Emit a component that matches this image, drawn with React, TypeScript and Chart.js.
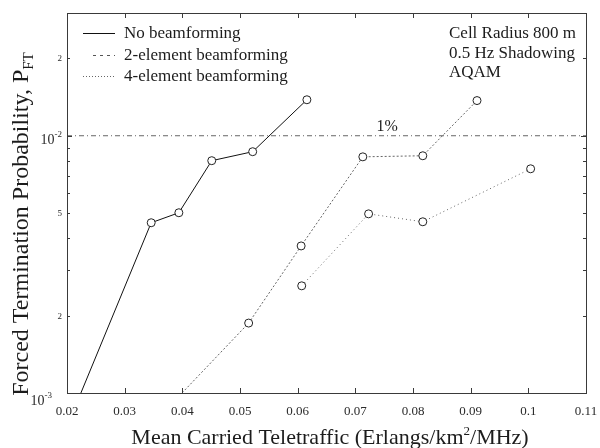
import React, { useEffect, useRef } from "react";
import { Chart, registerables } from "chart.js";

Chart.register(...registerables);

// ---- data ----
const noBfX = [0.02, 0.0346, 0.0394, 0.0451, 0.0522, 0.0616];
const noBfY = [0.00074, 0.00459, 0.00502, 0.008, 0.00867, 0.0138];
const bf2X = [0.039, 0.0515, 0.0606, 0.0713, 0.0817, 0.0911];
const bf2Y = [0.00095, 0.00187, 0.00373, 0.00828, 0.00836, 0.0137];
const bf4X = [0.0607, 0.0723, 0.0817, 0.1004];
const bf4Y = [0.00261, 0.00497, 0.00463, 0.00744];
const refX = [0.02, 0.11];
const refY = [0.01, 0.01];

const xTickValues = [0.02, 0.03, 0.04, 0.05, 0.06, 0.07, 0.08, 0.09, 0.1, 0.11];
const xTickLabels = ["0.02", "0.03", "0.04", "0.05", "0.06", "0.07", "0.08", "0.09", "0.1", "0.11"];
const yMinorValues = [
  0.001, 0.002, 0.003, 0.004, 0.005, 0.006, 0.007, 0.008, 0.009, 0.01, 0.02, 0.03,
];
const yDecadeValues = [0.001, 0.01];
const yDecadeExps = ["-3", "-2"];
const yMantValues = [0.002, 0.005, 0.02];
const yMantLabels = ["2", "5", "2"];

const seriesNames = ["No beamforming", "2-element beamforming", "4-element beamforming"];
const infoLines = ["Cell Radius 800 m", "0.5 Hz Shadowing", "AQAM"];
const refLabel = "1%";
const xTitleParts = ["Mean Carried Teletraffic (Erlangs/km", "2", "/MHz)"];
const yTitleParts = ["Forced Termination Probability, P", "FT"];

const FONT = "'Liberation Serif', 'DejaVu Serif', 'Times New Roman', serif";
const INK = "#1c1c1c";

type Part = { t: string; size: number; dy: number };

function drawParts(ctx: CanvasRenderingContext2D, parts: Part[], x: number, y: number, align: "left" | "center" | "right") {
  let total = 0;
  const widths = parts.map((p) => {
    ctx.font = `${p.size}px ${FONT}`;
    const w = ctx.measureText(p.t).width;
    total += w;
    return w;
  });
  let cx = align === "left" ? x : align === "center" ? x - total / 2 : x - total;
  parts.forEach((p, i) => {
    ctx.font = `${p.size}px ${FONT}`;
    ctx.textAlign = "left";
    ctx.textBaseline = "alphabetic";
    ctx.fillText(p.t, cx, y + p.dy);
    cx += widths[i];
  });
}

const decorPlugin = {
  id: "decor",
  afterDatasetsDraw(chart: any) {
    const ctx: CanvasRenderingContext2D = chart.ctx;
    const { left, right, top, bottom } = chart.chartArea;
    const xs = chart.scales.x;
    const ys = chart.scales.y;
    ctx.save();
    ctx.strokeStyle = "#3a3a3a";
    ctx.fillStyle = INK;
    ctx.lineWidth = 1;
    // frame
    ctx.strokeRect(Math.round(left) + 0.5, Math.round(top) + 0.5, Math.round(right - left), Math.round(bottom - top));
    // y ticks (inside, both sides)
    yMinorValues.forEach((v) => {
      const py = Math.round(ys.getPixelForValue(v)) + 0.5;
      const len = v === 0.001 || v === 0.01 ? 5 : 3;
      ctx.beginPath();
      ctx.moveTo(left, py);
      ctx.lineTo(left + len, py);
      ctx.moveTo(right, py);
      ctx.lineTo(right - len, py);
      ctx.stroke();
    });
    // x ticks (inside, top & bottom)
    xTickValues.forEach((v) => {
      const px = Math.round(xs.getPixelForValue(v)) + 0.5;
      ctx.beginPath();
      ctx.moveTo(px, bottom);
      ctx.lineTo(px, bottom - 5);
      ctx.moveTo(px, top);
      ctx.lineTo(px, top + 5);
      ctx.stroke();
    });
    // x tick labels
    ctx.fillStyle = "#2a2a2a";
    xTickValues.forEach((v, i) => {
      const px = xs.getPixelForValue(v);
      drawParts(ctx, [{ t: xTickLabels[i], size: 13, dy: 0 }], px, bottom + 22, "center");
    });
    // y tick labels
    yDecadeValues.forEach((v, i) => {
      const py = ys.getPixelForValue(v);
      const isBottom = i === 0;
      drawParts(
        ctx,
        [
          { t: "10", size: 14, dy: 0 },
          { t: yDecadeExps[i], size: 9, dy: -7 },
        ],
        isBottom ? left - 15 : left - 5,
        isBottom ? py + 12 : py + 8,
        "right"
      );
    });
    yMantValues.forEach((v, i) => {
      const py = ys.getPixelForValue(v);
      drawParts(ctx, [{ t: yMantLabels[i], size: 9, dy: 0 }], left - 5, py + 3, "right");
    });
    // axis titles
    ctx.fillStyle = INK;
    drawParts(
      ctx,
      [
        { t: xTitleParts[0], size: 22, dy: 0 },
        { t: xTitleParts[1], size: 13, dy: -9 },
        { t: xTitleParts[2], size: 22, dy: 0 },
      ],
      330,
      444,
      "center"
    );
    ctx.save();
    ctx.translate(28, 224);
    ctx.rotate(-Math.PI / 2);
    drawParts(
      ctx,
      [
        { t: yTitleParts[0], size: 24, dy: 0 },
        { t: yTitleParts[1], size: 15, dy: 5 },
      ],
      0,
      0,
      "center"
    );
    ctx.restore();
    // legend
    const legY = [33, 55, 76];
    const legDash = [[], [3, 4], [1, 2]];
    const legColor = ["#111", "#555", "#666"];
    const legX0 = [83, 93, 83];
    seriesNames.forEach((name, i) => {
      ctx.save();
      ctx.strokeStyle = legColor[i];
      ctx.lineWidth = 1;
      ctx.setLineDash(legDash[i]);
      ctx.beginPath();
      ctx.moveTo(legX0[i], Math.round(legY[i]) + 0.5);
      ctx.lineTo(115, Math.round(legY[i]) + 0.5);
      ctx.stroke();
      ctx.restore();
      ctx.fillStyle = INK;
      drawParts(ctx, [{ t: name, size: 17, dy: 0 }], 124, legY[i] + 5, "left");
    });
    // info text
    const infoY = [33, 52.5, 72];
    infoLines.forEach((s, i) => {
      drawParts(ctx, [{ t: s, size: 17, dy: 0 }], 449, infoY[i] + 5, "left");
    });
    // 1% label
    drawParts(ctx, [{ t: refLabel, size: 16, dy: 0 }], xs.getPixelForValue(0.0755), ys.getPixelForValue(0.01) - 5, "center");
    ctx.restore();
  },
};

function toPts(xs: number[], ys: number[]) {
  return xs.map((x, i) => ({ x, y: ys[i] }));
}

export default function App() {
  const ref = useRef<HTMLCanvasElement | null>(null);
  useEffect(() => {
    document.body.style.margin = "0";
    const canvas = ref.current!;
    const chart = new Chart(canvas, {
      type: "scatter",
      data: {
        datasets: [
          {
            label: "1%",
            data: toPts(refX, refY),
            showLine: true,
            borderColor: "#666",
            borderWidth: 1,
            borderDash: [5, 3, 1, 3],
            pointRadius: 0,
          },
          {
            label: seriesNames[0],
            data: toPts(noBfX, noBfY),
            showLine: true,
            borderColor: "#111",
            borderWidth: 1,
            pointRadius: 4,
            pointBorderWidth: 1,
            pointBorderColor: "#222",
            pointBackgroundColor: "#fff",
          },
          {
            label: seriesNames[1],
            data: toPts(bf2X, bf2Y),
            showLine: true,
            borderColor: "#666",
            borderWidth: 1,
            borderDash: [2, 2],
            pointRadius: 4,
            pointBorderWidth: 1,
            pointBorderColor: "#222",
            pointBackgroundColor: "#fff",
          },
          {
            label: seriesNames[2],
            data: toPts(bf4X, bf4Y),
            showLine: true,
            borderColor: "#666",
            borderWidth: 1,
            borderDash: [1, 3],
            pointRadius: 4,
            pointBorderWidth: 1,
            pointBorderColor: "#222",
            pointBackgroundColor: "#fff",
          },
        ],
      },
      options: {
        responsive: false,
        animation: false,
        layout: { padding: { left: 67, top: 13, right: 14, bottom: 55 } },
        plugins: { legend: { display: false }, tooltip: { enabled: false } },
        scales: {
          x: { type: "linear", display: false, min: 0.02, max: 0.11 },
          y: { type: "logarithmic", display: false, min: 0.001, max: 0.03 },
        },
      },
      plugins: [decorPlugin],
    });
    return () => chart.destroy();
  }, []);
  return (
    <div style={{ width: 600, height: 448, background: "#fff" }}>
      <canvas ref={ref} width={600} height={448} />
    </div>
  );
}
